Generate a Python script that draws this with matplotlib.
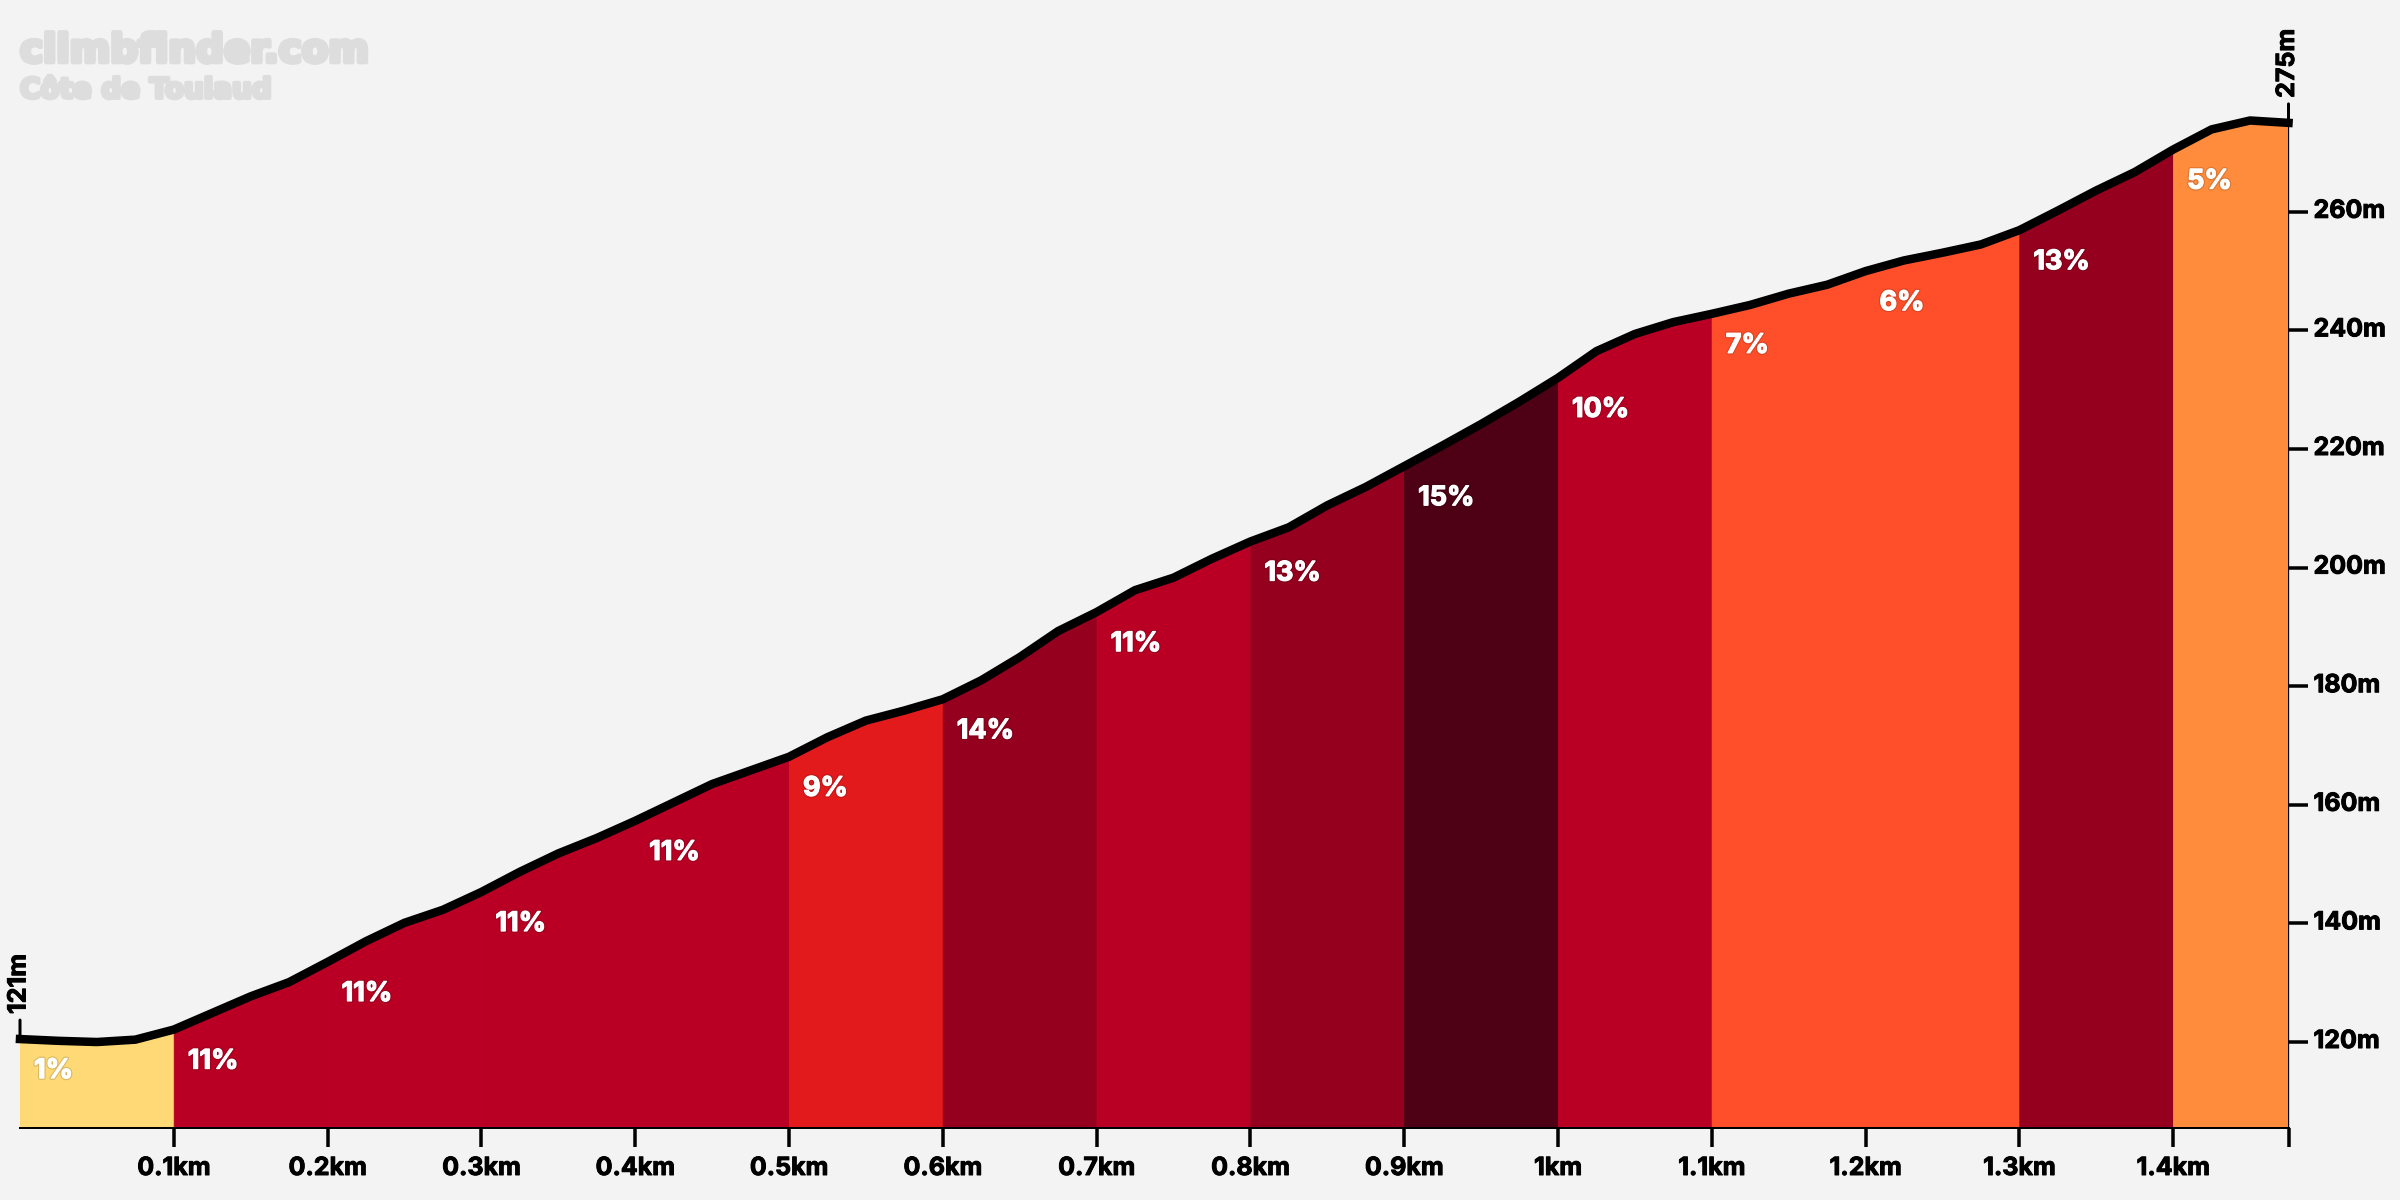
import matplotlib
matplotlib.use("Agg")
import matplotlib.pyplot as plt
import matplotlib.patheffects as pe
from matplotlib.transforms import ScaledTranslation
import numpy as np

# Elevation profile (m), sampled every 25 m of distance
step_km = 0.025
elevation = [120.5, 120.2, 120.0, 120.4, 122.1, 124.9, 127.7, 130.1, 133.5, 137.0,
             140.1, 142.3, 145.3, 148.7, 151.8, 154.4, 157.3, 160.4, 163.5, 165.8,
             168.1, 171.4, 174.2, 175.9, 177.8, 181.0, 184.9, 189.3, 192.5, 196.2,
             198.3, 201.5, 204.4, 206.8, 210.5, 213.6, 217.1, 220.6, 224.2, 228.0,
             232.0, 236.5, 239.4, 241.4, 242.8, 244.3, 246.2, 247.7, 250.0, 251.8,
             253.1, 254.5, 256.9, 260.2, 263.6, 266.7, 270.5, 273.9, 275.4, 275.0]
seg_starts = [0.0, 0.1, 0.2, 0.3, 0.4, 0.5, 0.6, 0.7, 0.8, 0.9, 1.0, 1.1, 1.2, 1.3, 1.4]
seg_grades = ["1%", "11%", "11%", "11%", "11%", "9%", "14%", "11%", "13%", "15%",
              "10%", "7%", "6%", "13%", "5%"]
seg_colors = ["#FED976", "#B90024", "#B90024", "#B90024", "#B90024", "#E31A1C", "#95001E",
              "#B90024", "#95001E", "#4E0014", "#B90024", "#FF4F2A", "#FF4F2A", "#95001E", "#FF8C3C"]
x_ticks = [0.1, 0.2, 0.3, 0.4, 0.5, 0.6, 0.7, 0.8, 0.9, 1.0, 1.1, 1.2, 1.3, 1.4, 1.475]
x_labels = ["0.1km", "0.2km", "0.3km", "0.4km", "0.5km", "0.6km", "0.7km", "0.8km", "0.9km",
            "1km", "1.1km", "1.2km", "1.3km", "1.4km", ""]
y_ticks = [120, 140, 160, 180, 200, 220, 240, 260]
y_labels = ["120m", "140m", "160m", "180m", "200m", "220m", "240m", "260m"]
start_label = "121m"
end_label = "275m"
site_title = "climbfinder.com"
climb_title = "Côte de Toulaud"

BG = "#F3F3F3"
FONT = ["Inter", "Noto Sans", "DejaVu Sans"]
PX = 72 / 200  # points per output pixel

W, H = 2400, 1200
left_px, right_px, bottom_px, top_px = 20, 2288.5, 1128, 60

fig = plt.figure(figsize=(W / 200, H / 200), dpi=200, facecolor=BG)
ax = fig.add_axes([left_px / W, 1 - bottom_px / H, (right_px - left_px) / W, (bottom_px - top_px) / H])
ax.set_facecolor(BG)

dist = np.arange(len(elevation)) * step_km
elev = np.array(elevation)
ymin = 105.5
ymax = ymin + (bottom_px - top_px) / 5.93
ax.set_xlim(0, dist[-1])
ax.set_ylim(ymin, ymax)

bounds = seg_starts + [dist[-1]]
for i, (s, e) in enumerate(zip(bounds[:-1], bounds[1:])):
    m = (dist >= s - 1e-9) & (dist <= e + 1e-9)
    ax.fill_between(dist[m], ymin, elev[m], facecolor=seg_colors[i], edgecolor=seg_colors[i],
                    linewidth=1.0 * PX, zorder=1)
    y0 = np.interp(s, dist, elev)
    ax.annotate(seg_grades[i], xy=(s, y0), xytext=(14 * PX, -32 * PX), textcoords="offset points",
                ha="left", va="center", color="white", fontsize=9.7, fontweight="bold",
                family=FONT, zorder=4,
                path_effects=[pe.withStroke(linewidth=1.3, foreground=(0, 0, 0, 0.14)),
                              pe.withStroke(linewidth=0.45, foreground="white")])

ax.vlines(dist[-1], ymin, elev[-1], color="black", lw=2 * PX, zorder=2)
ax.plot(dist, elev, color="black", lw=8.5 * PX, solid_capstyle="projecting",
        solid_joinstyle="round", clip_on=False, zorder=3)

for sp in ("top", "left", "right"):
    ax.spines[sp].set_visible(False)
ax.spines["bottom"].set_linewidth(2 * PX)
ax.spines["bottom"].set_zorder(5)

ax.set_xticks(x_ticks, x_labels)
ax.yaxis.tick_right()
ax.set_yticks(y_ticks, y_labels)
ax.tick_params(axis="x", length=19 * PX, width=3.5 * PX, pad=10 * PX, color="black")
ax.tick_params(axis="y", length=19 * PX, width=3.5 * PX, pad=6 * PX, color="black")
tick_stroke = [pe.withStroke(linewidth=0.35, foreground="black")]
for t in ax.get_xticklabels() + ax.get_yticklabels():
    t.set_family(FONT)
    t.set_fontweight("bold")
    t.set_fontsize(9.0)
    t.set_color("black")
    t.set_path_effects(tick_stroke)
for t in ax.get_yticklabels():
    t.set_transform(t.get_transform() + ScaledTranslation(0, 3 / 200, fig.dpi_scale_trans))

# Rotated start / finish elevation labels with small marker ticks
for x, y, lab in ((dist[0], elev[0], start_label), (dist[-1], elev[-1], end_label)):
    ax.annotate("", xy=(x, y), xytext=(0, 19 * PX), textcoords="offset points",
                arrowprops=dict(arrowstyle="-", lw=3 * PX, color="black", shrinkA=0, shrinkB=0))
    ax.annotate(lab, xy=(x, y), xytext=(-1 * PX, 25 * PX), textcoords="offset points",
                rotation=90, ha="center", va="bottom", fontsize=9.0, fontweight="bold",
                family=FONT, color="black", path_effects=tick_stroke)

fig.text(20 / W, 1 - 62 / H, site_title, fontsize=14.0, fontweight="bold", color="#DDDDDD",
         family=["DejaVu Sans"], ha="left", va="baseline",
         path_effects=[pe.withStroke(linewidth=1.7, foreground="#DDDDDD")])
fig.text(20 / W, 1 - 98 / H, climb_title, fontsize=10.0, fontweight="bold", color="#DDDDDD",
         family=["DejaVu Sans"], ha="left", va="baseline",
         path_effects=[pe.withStroke(linewidth=1.4, foreground="#DDDDDD")])

fig.savefig("out.png", dpi=200, facecolor=BG)
